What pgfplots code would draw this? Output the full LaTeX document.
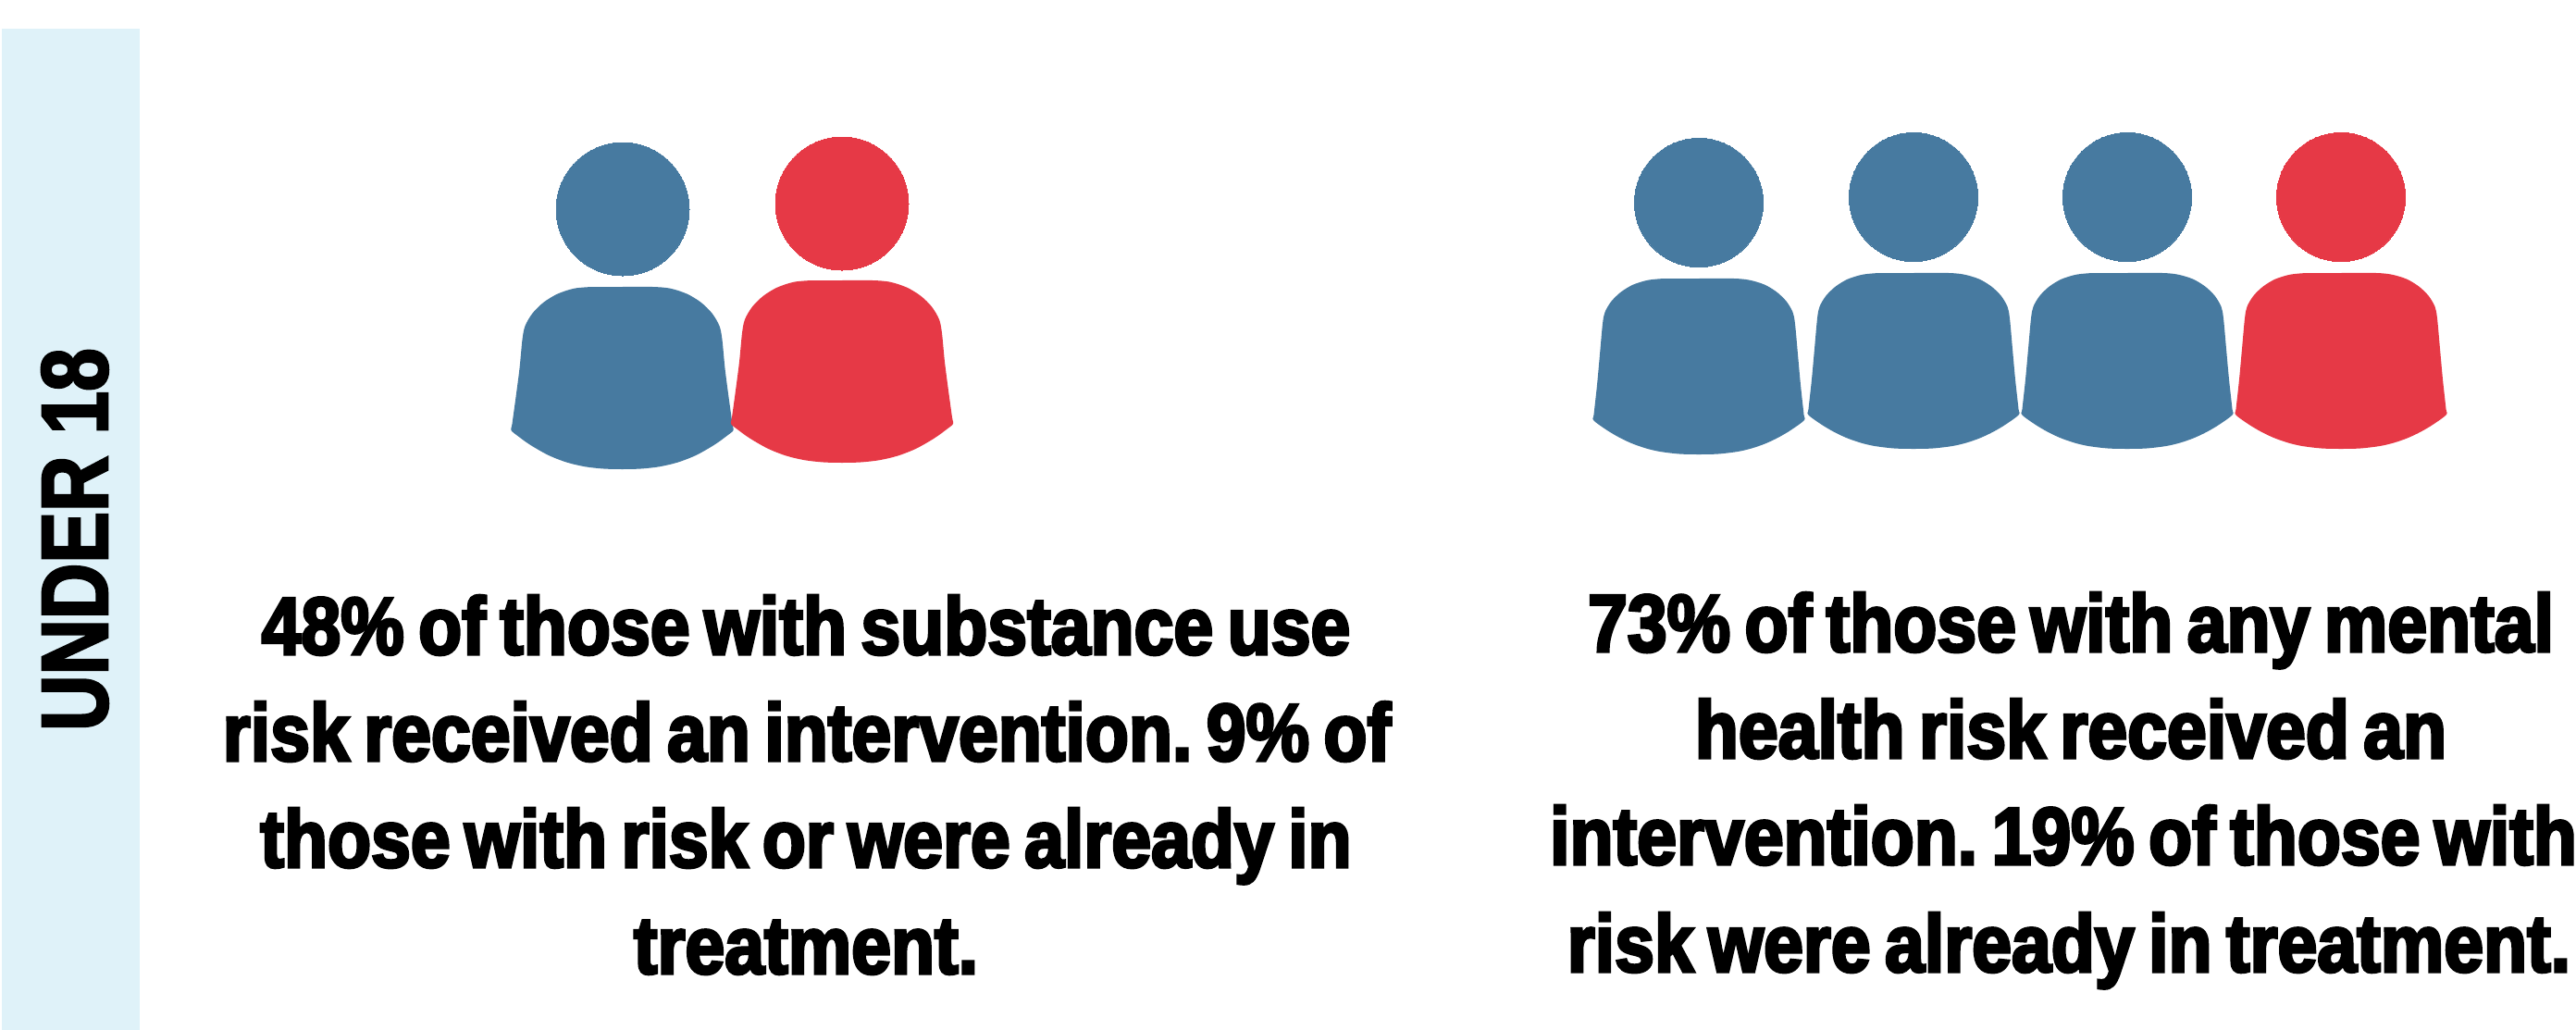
\documentclass[border=0pt]{standalone}
\usepackage{fontspec}
\usepackage{pgfplots}
\usepackage{pgfplotstable}
\pgfplotsset{compat=1.18}
\setmainfont{Liberation Sans}
\newfontfamily\statfont{Liberation Sans}[BoldFeatures={FakeStretch=0.875,FakeBold=3.5,WordSpace=0.72}]
\newfontfamily\sidefont{Liberation Sans}[BoldFeatures={FakeStretch=0.82,FakeBold=2.5}]
\definecolor{sidebar}{HTML}{DFF2F9}
\definecolor{blueperson}{HTML}{477AA0}
\definecolor{redperson}{HTML}{E63946}

% Body outlines, relative to the centre of the shoulders and the top of the body
\pgfplotstableread{
x y
0 0
33 0
52 1.7
70 7.6
85 16.7
97 28.5
105 42.2
108 57
111 88
115 119
119 148
120 155
113 161
100 170.4
80 181.8
60 189.6
40 194.3
20 196.5
0 197
-20 196.5
-40 194.3
-60 189.6
-80 181.8
-100 170.4
-113 161
-120 155
-119 148
-115 119
-111 88
-108 57
-105 42.2
-97 28.5
-85 16.7
-70 7.6
-52 1.7
-33 0
}\bodywide
\pgfplotstableread{
x y
0 0
38 0
55 1.7
71 6.6
84 14.4
94.5 24.5
101.5 36.3
104 49
107 82
110 115
113.5 147
114 153
100 163.4
86 171.7
72 178.3
57 183.5
42 187
21 189.5
0 190
-21 189.5
-42 187
-57 183.5
-72 178.3
-86 171.7
-100 163.4
-114 153
-113.5 147
-110 115
-107 82
-104 49
-101.5 36.3
-94.5 24.5
-84 14.4
-71 6.6
-55 1.7
-38 0
}\bodynarrow

\newcommand{\body}[4]{% colour, table, centre x, top y
  \addplot[fill=#1, draw=none, smooth, tension=0.5]
    table[x expr=\thisrow{x}+#3, y expr=\thisrow{y}+#4] {#2} -- cycle;}
\newcommand{\statline}[3]{% centre x, baseline y, text
  \node[anchor=base, inner sep=0pt, font=\statfont\bfseries\fontsize{22}{26}\selectfont]
    at (axis cs:#1,#2) {#3};}

\begin{document}
\begin{tikzpicture}
\clip (0,0) rectangle (696pt,278.25pt);
\begin{axis}[
  at={(0,0)}, anchor=south west,
  width=696pt, height=278.25pt, scale only axis,
  xmin=0, xmax=2784, ymin=0, ymax=1113, y dir=reverse,
  hide axis,
]
% side band
\addplot[fill=sidebar, draw=none] coordinates {(2,31) (151,31) (151,1113) (2,1113)} -- cycle;

% left group
\body{blueperson}{\bodywide}{672.5}{310}
\body{redperson}{\bodywide}{910}{303}
\addplot[only marks, mark=*, mark size=18pt, mark options={line width=0pt, draw=blueperson, fill=blueperson}]
  coordinates {(673,226)};
\addplot[only marks, mark=*, mark size=18pt, mark options={line width=0pt, draw=redperson, fill=redperson}]
  coordinates {(910,220)};

% right group
\body{blueperson}{\bodynarrow}{1836}{301}
\body{blueperson}{\bodynarrow}{2068}{295}
\body{blueperson}{\bodynarrow}{2299}{295}
\body{redperson}{\bodynarrow}{2530}{295}
\addplot[only marks, mark=*, mark size=17.4pt, mark options={line width=0pt, draw=blueperson, fill=blueperson}]
  coordinates {(1836,219) (2068,213) (2299,213)};
\addplot[only marks, mark=*, mark size=17.4pt, mark options={line width=0pt, draw=redperson, fill=redperson}]
  coordinates {(2530,213)};

\node[rotate=90, anchor=base, inner sep=0pt, font=\sidefont\bfseries\fontsize{25.5}{30}\selectfont]
  at (axis cs:116,583) {UNDER 18};

\statline{871}{707}{48\% of those with substance use}
\statline{872}{822}{risk received an intervention.\ 9\% of}
\statline{871}{937}{those with risk or were already in}
\statline{871}{1052}{treatment.}

\statline{2238}{704}{73\% of those with any mental}
\statline{2238}{819}{health risk received an}
\statline{2230}{934}{intervention.\ 19\% of those with}
\statline{2236}{1050}{risk were already in treatment.}
\end{axis}
\end{tikzpicture}
\end{document}
